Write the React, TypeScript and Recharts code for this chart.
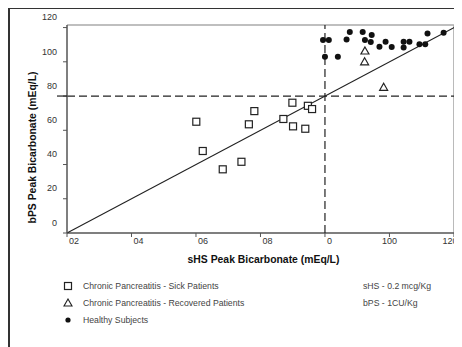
import React from 'react';
import {ScatterChart, Scatter, XAxis, YAxis, ReferenceLine, Label} from 'recharts';

// values
const sickX = [40.1, 42.1, 48.3, 54.1, 56.4, 58.1, 67.1, 69.9, 70.1, 73.9, 74.7, 76.0];
const sickY = [65.0, 47.9, 37.2, 41.6, 63.5, 71.2, 66.6, 76.1, 62.3, 60.9, 74.3, 72.4];

const recoveredX = [92.4, 92.3, 98.2];
const recoveredY = [106.3, 100.0, 85.1];

const healthyX = [79.4, 81.2, 86.7, 87.7, 91.7, 92.4, 94.5, 94.2, 96.9, 98.8, 100.7, 104.4, 106.2, 104.4, 109.3, 111.1, 111.8, 116.8, 80.0, 84.0];
const healthyY = [112.7, 112.7, 113.1, 117.4, 117.4, 112.7, 115.6, 111.5, 108.8, 111.7, 108.6, 111.7, 111.7, 108.4, 110.2, 110.2, 116.6, 117.0, 102.9, 102.9];

const xTicks = [0, 20, 40, 60, 80, 100, 120];
const xTickLabels = ['02', '04', '06', '08', '0', '100', '120'];
const yTicks = [0, 20, 40, 60, 80, 100, 115, 120];
const yTickLabels = ['0', '20', '40', '60', '80', '100', '', '120'];

const cutoff = 80;
const seriesNames = ['Chronic Pancreatitis - Sick Patients', 'Chronic Pancreatitis - Recovered Patients', 'Healthy Subjects'];
const doseNotes = ['sHS - 0.2 mcg/Kg', 'bPS - 1CU/Kg'];

const zip = (xs: number[], ys: number[]) => xs.map((x, i) => ({x, y: ys[i]}));
const sickData = zip(sickX, sickY);
const recoveredData = zip(recoveredX, recoveredY);
const healthyData = zip(healthyX, healthyY);

const FONT = '"Liberation Sans", Arial, sans-serif';
const INK = '#222';

const Square = (props: any) => (
    <rect x={props.cx - 3.5} y={props.cy - 3.5} width={7} height={7} fill="#fff" stroke={INK} strokeWidth={1.2} />
);
const Triangle = (props: any) => (
    <path d={`M${props.cx},${props.cy - 4}L${props.cx + 4},${props.cy + 3}L${props.cx - 4},${props.cy + 3}Z`} fill="#fff" stroke={INK} strokeWidth={1.2} />
);
const Dot = (props: any) => <circle cx={props.cx} cy={props.cy} r={3} fill="#111" />;

const XTick = ({x, y, payload}: any) => {
    const i = xTicks.indexOf(payload.value);
    const centered = i >= 5;
    return (
        <text x={x + (centered ? 0 : 2)} y={y} dy="0.71em" textAnchor={centered ? 'middle' : 'start'}
              fontSize={9} fontFamily={FONT} fill="#333">
            {xTickLabels[i]}
        </text>
    );
};

const YTick = ({x, y, payload}: any) => {
    const i = yTicks.indexOf(payload.value);
    return (
        <g>
            {payload.value === cutoff && (
                <line x1={x} y1={y} x2={x + 10} y2={y} stroke={INK} strokeWidth={1.2} />
            )}
            <text x={x} y={y - 10.5} dy="0.355em" textAnchor="end" fontSize={9} fontFamily={FONT} fill="#333">
                {yTickLabels[i]}
            </text>
        </g>
    );
};

const LegendMark = ({i}: {i: number}) => (
    <svg width={10} height={10} style={{position: 'absolute', left: -5, top: 2}}>
        {i === 0 && <rect x={1.5} y={1.5} width={7} height={7} fill="#fff" stroke={INK} strokeWidth={1.2} />}
        {i === 1 && <path d="M5,1L9,8L1,8Z" fill="#fff" stroke={INK} strokeWidth={1.1} />}
        {i === 2 && <circle cx={5} cy={5} r={2.6} fill="#111" />}
    </svg>
);

export default function App() {
    return (
        <div style={{position: 'relative', width: 454, height: 339}}>
            <div style={{position: 'absolute', left: 0, top: -1, width: 454, height: 340, borderTop: '2px solid #333', borderLeft: '2px solid #333', boxSizing: 'border-box'}} />
            <ScatterChart width={454} height={339} margin={{top: 17, right: 0, bottom: 84, left: 0}}>
                <XAxis type="number" dataKey="x" domain={[0, 122.5]} ticks={xTicks} allowDataOverflow
                       axisLine={false} tickLine={{stroke: '#555'}} tickSize={4} tickMargin={1} tick={<XTick />} height={30}>
                    <Label content={() => (
                        <text x={255.5} y={251} dy="0.355em" textAnchor="middle" fontSize={10.4} fontWeight="bold" fontFamily={FONT} fill="#111">
                            sHS Peak Bicarbonate (mEq/L)
                        </text>
                    )} />
                </XAxis>
                <YAxis type="number" dataKey="y" domain={[0, 121.5]} ticks={yTicks} allowDataOverflow width={59}
                       axisLine={{stroke: '#555', strokeWidth: 1.5}} tickLine={{stroke: '#555'}} tickSize={4} tickMargin={6} tick={<YTick />}>
                    <Label content={() => (
                        <text x={24} y={139.5} dy="0.355em" textAnchor="middle" transform="rotate(-90 24 139.5)"
                              fontSize={10.4} fontWeight="bold" fontFamily={FONT} fill="#111">
                            bPS Peak Bicarbonate (mEq/L)
                        </text>
                    )} />
                </YAxis>

                <ReferenceLine segment={[{x: 0, y: 121.5}, {x: 120, y: 121.5}]} stroke="#aaa" strokeWidth={1.5} />
                <ReferenceLine segment={[{x: 120, y: 0}, {x: 120, y: 121.5}]} stroke="#aaa" strokeWidth={1.5} />
                <ReferenceLine segment={[{x: 0, y: 0}, {x: 120, y: 0}]} stroke="#555" strokeWidth={1.5} />
                <ReferenceLine y={cutoff} stroke={INK} strokeWidth={1.2} strokeDasharray="8 4" />
                <ReferenceLine x={cutoff} stroke={INK} strokeWidth={1.2} strokeDasharray="8 4" />
                <ReferenceLine segment={[{x: 0, y: 0}, {x: 122.5, y: 122.5}]} stroke={INK} strokeWidth={1.1} ifOverflow="visible" />

                <Scatter name={seriesNames[0]} data={sickData} shape={<Square />} isAnimationActive={false} />
                <Scatter name={seriesNames[1]} data={recoveredData} shape={<Triangle />} isAnimationActive={false} />
                <Scatter name={seriesNames[2]} data={healthyData} shape={<Dot />} isAnimationActive={false} />
            </ScatterChart>

            {seriesNames.map((name, i) => (
                <div key={name} style={{position: 'absolute', left: 60, top: 271 + 17 * i, height: 14, lineHeight: '14px', fontFamily: FONT, fontSize: 8.7, color: '#444', whiteSpace: 'nowrap'}}>
                    <LegendMark i={i} />
                    <span style={{position: 'absolute', left: 15}}>{name}</span>
                </div>
            ))}
            {doseNotes.map((note, i) => (
                <div key={note} style={{position: 'absolute', left: 355, top: 271 + 17 * i, height: 14, lineHeight: '14px', fontFamily: FONT, fontSize: 8.7, color: '#444', whiteSpace: 'nowrap'}}>
                    {note}
                </div>
            ))}
        </div>
    );
}
